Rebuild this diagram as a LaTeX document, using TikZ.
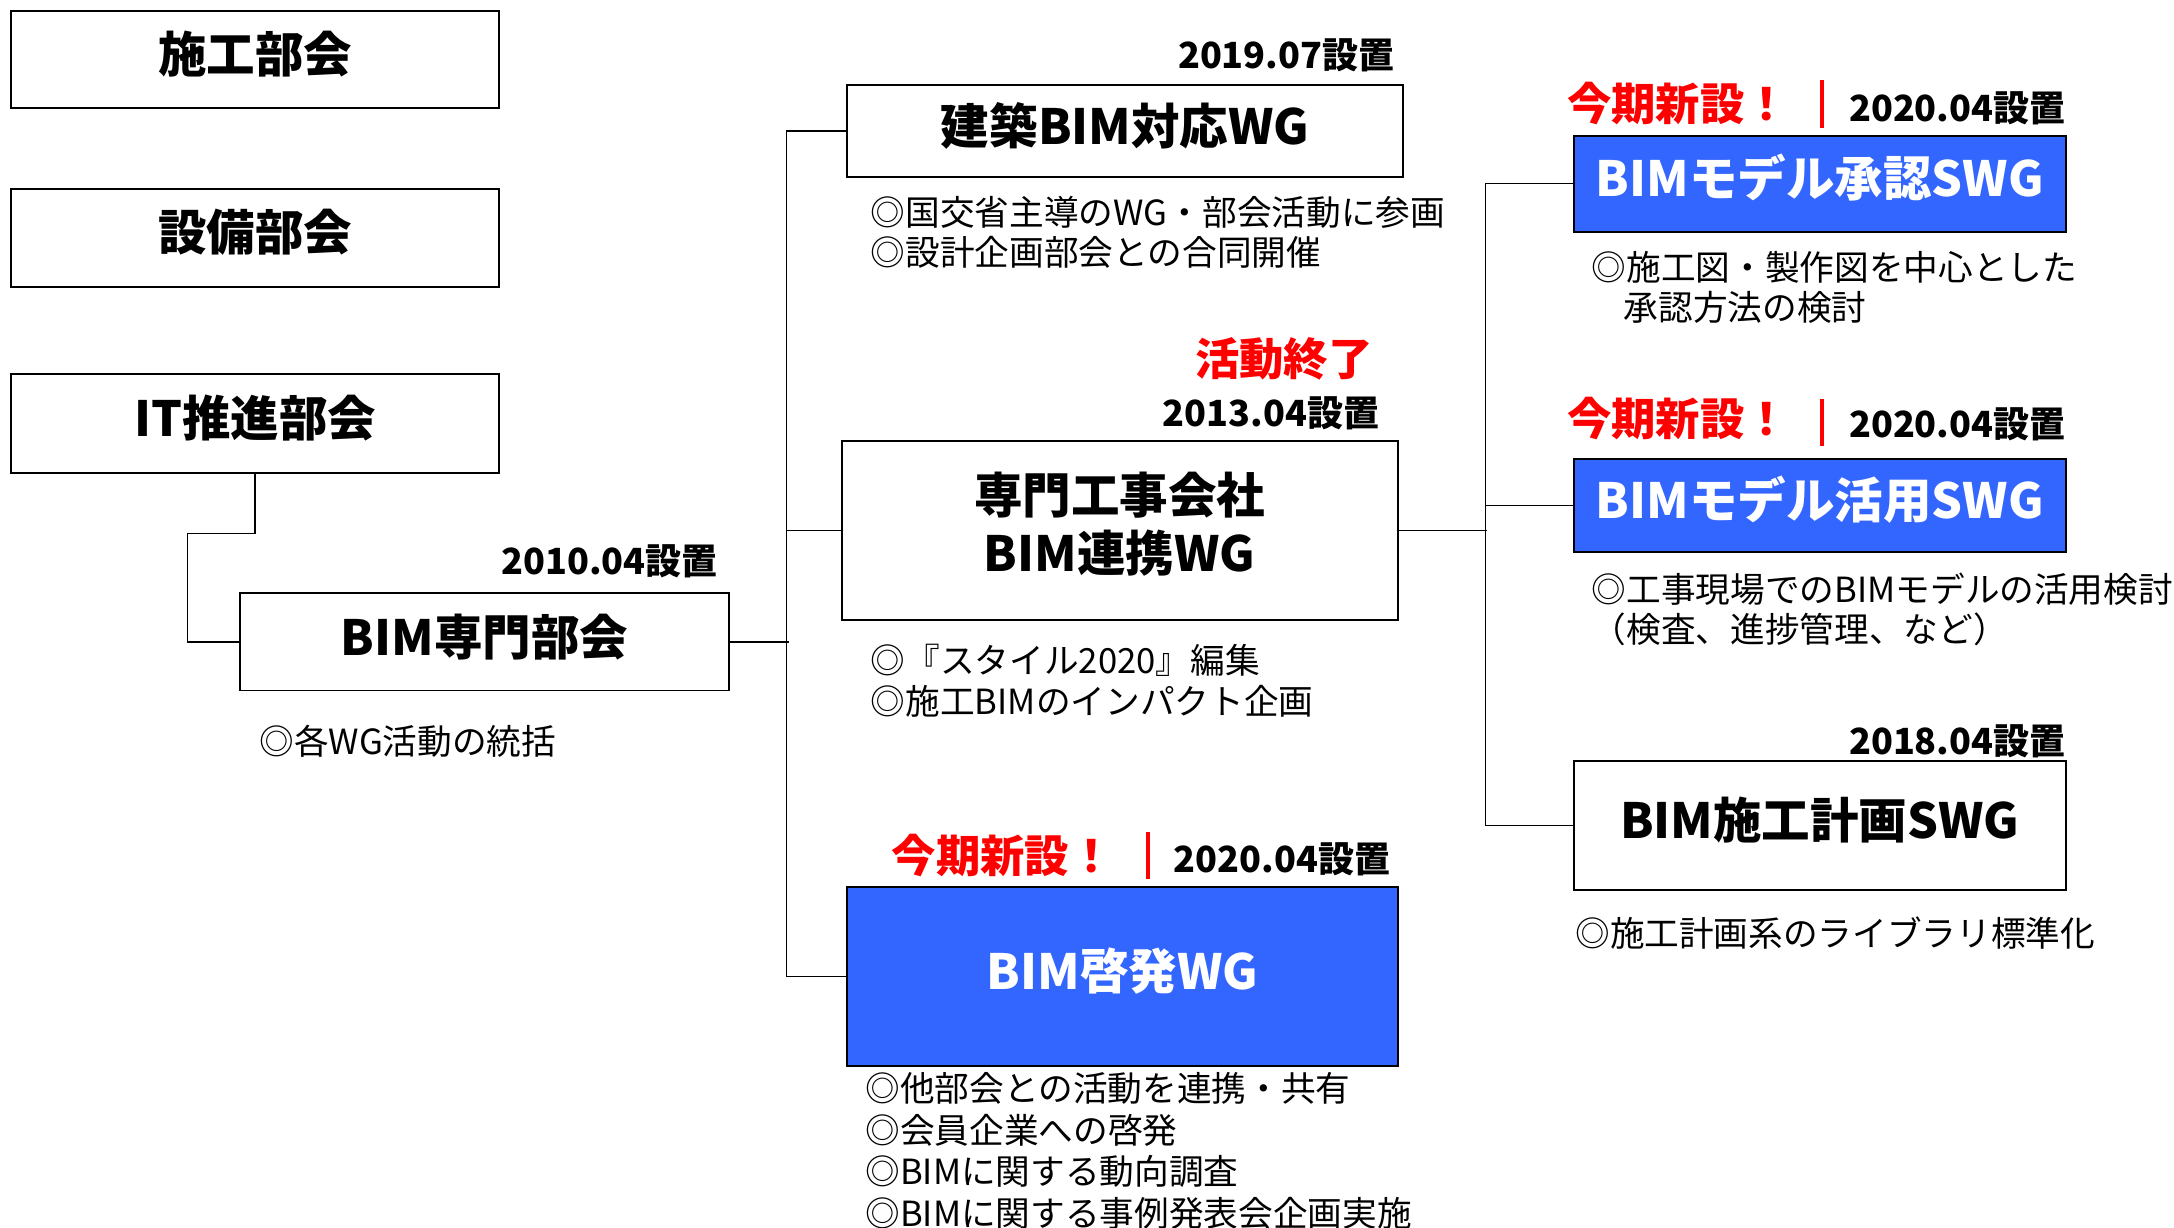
\documentclass[tikz,border=0pt]{standalone}
\usepackage{fontspec}
\newfontfamily\jp{Noto Sans CJK JP}
\definecolor{bimblue}{RGB}{51,102,255}
\definecolor{newred}{RGB}{255,0,0}
\begin{document}
\begin{tikzpicture}[x=1pt,y=-1pt,
  box/.style={draw=black, line width=1.4pt, inner sep=0pt, align=center,
    font=\jp\bfseries\fontsize{35}{40}\selectfont},
  oneline/.style={text height=30pt, text depth=11pt},
  bluebox/.style={box, fill=bimblue, text=white},
  datelbl/.style={inner sep=0pt, anchor=east, font=\jp\bfseries\fontsize{26}{30}\selectfont},
  newlbl/.style={inner sep=0pt, anchor=west, text=newred, font=\jp\bfseries\fontsize{32}{36}\selectfont},
  endlbl/.style={inner sep=0pt, text=newred, font=\jp\bfseries\fontsize{32}{36}\selectfont},
  notelbl/.style={inner sep=0pt, anchor=west, font=\jp\fontsize{25}{30}\selectfont},
  conn/.style={draw=black, line width=0.9pt},
  redbar/.style={draw=newred, line width=2.6pt}]
\useasboundingbox (0,0) rectangle (1568,885);

% left column
\node[box, oneline, minimum width=352pt, minimum height=70pt] (sekou) at (184,43) {施工部会};
\node[box, oneline, minimum width=352pt, minimum height=71pt] (setsubi) at (184,171.5) {設備部会};
\node[box, oneline, minimum width=352pt, minimum height=71pt] (it) at (184,305.5) {IT推進部会};
\node[box, oneline, minimum width=353pt, minimum height=70pt] (bimsenmon) at (349.5,463) {BIM専門部会};
\node[datelbl] (d2010) at (518,405) {2010.04設置};
\node[notelbl] (n0) at (187,535) {◎各WG活動の統括};

% middle column
\node[box, oneline, minimum width=401pt, minimum height=67pt] (kenchiku) at (811.5,94.5) {建築BIM対応WG};
\node[datelbl] (d2019) at (1006,40) {2019.07設置};
\node[notelbl] (n1a) at (628,153) {◎国交省主導のWG・部会活動に参画};
\node[notelbl] (n1b) at (628,182) {◎設計企画部会との合同開催};

\node[endlbl] (end) at (926,259) {活動終了};
\node[datelbl] (d2013) at (995,298) {2013.04設置};
\node[box, minimum width=401pt, minimum height=129pt] (senmon) at (807.5,382.5)
  {\begin{tabular}{@{}c@{}}専門工事会社\\BIM連携WG\end{tabular}};
\node[notelbl] (n2a) at (628,476) {◎『スタイル2020』編集};
\node[notelbl] (n2b) at (628,506) {◎施工BIMのインパクト企画};

\node[newlbl] (new1) at (643,617) {今期新設！};
\coordinate (bar1t) at (828,600);
\coordinate (bar1b) at (828,634);
\node[datelbl] (d2020a) at (1003,620) {2020.04設置};
\node[bluebox, oneline, minimum width=397pt, minimum height=129pt] (keihatsu) at (809.5,704.5) {BIM啓発WG};
\node[notelbl] (n3a) at (624,785) {◎他部会との活動を連携・共有};
\node[notelbl] (n3b) at (624,815) {◎会員企業への啓発};
\node[notelbl] (n3c) at (624,845) {◎BIMに関する動向調査};
\node[notelbl] (n3d) at (624,875) {◎BIMに関する事例発表会企画実施};

% right column
\node[newlbl] (new2) at (1130,75) {今期新設！};
\coordinate (bar2t) at (1314,58);
\coordinate (bar2b) at (1314,92);
\node[datelbl] (d2020b) at (1490,78) {2020.04設置};
\node[bluebox, oneline, minimum width=355pt, minimum height=69pt] (shounin) at (1312.5,132.5) {BIMモデル承認SWG};
\node[notelbl] (n4a) at (1148,193) {◎施工図・製作図を中心とした};
\node[notelbl] (n4b) at (1171,222) {承認方法の検討};

\node[newlbl] (new3) at (1130,302) {今期新設！};
\coordinate (bar3t) at (1314,288);
\coordinate (bar3b) at (1314,322);
\node[datelbl] (d2020c) at (1490,306) {2020.04設置};
\node[bluebox, oneline, minimum width=355pt, minimum height=67pt] (katsuyou) at (1312.5,364.5) {BIMモデル活用SWG};
\node[notelbl] (n5a) at (1148,425) {◎工事現場でのBIMモデルの活用検討};
\node[notelbl] (n5b) at (1148,454) {（検査、進捗管理、など）};

\node[datelbl] (d2018) at (1490,535) {2018.04設置};
\node[box, oneline, minimum width=355pt, minimum height=93pt] (keikaku) at (1312.5,595.5) {BIM施工計画SWG};
\node[notelbl] (n6) at (1136,673) {◎施工計画系のライブラリ標準化};

% red bars
\draw[redbar] (bar1t) -- (bar1b);
\draw[redbar] (bar2t) -- (bar2b);
\draw[redbar] (bar3t) -- (bar3b);

% connectors
\draw[conn] (it.south) -- ++(0,43) -| ([xshift=-37pt]bimsenmon.west) -- (bimsenmon.west);
\draw[conn] (bimsenmon.east) -- ++(42,0);
\draw[conn] (kenchiku.west) -- ++(-43,0) |- (keihatsu.west);
\draw[conn] (senmon.west) -- ++(-39,0);
\draw[conn] (senmon.east) -- ++(64,0);
\draw[conn] (shounin.west) -- ++(-63,0) |- (keikaku.west);
\draw[conn] (katsuyou.west) -- ++(-63,0);
\end{tikzpicture}
\end{document}
